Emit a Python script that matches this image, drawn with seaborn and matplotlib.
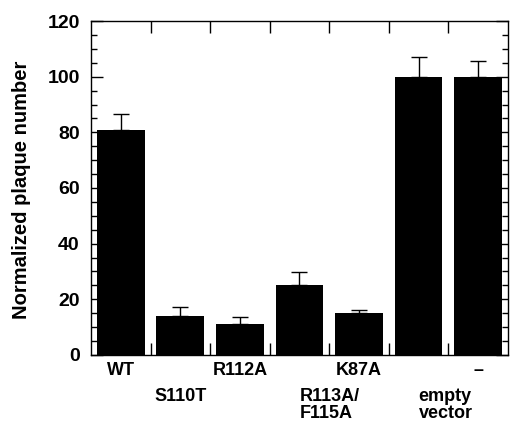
import matplotlib
matplotlib.use("Agg")
import matplotlib.pyplot as plt
import seaborn as sns
import numpy as np

# data
labels = ['WT', 'S110T', 'R112A', 'R113A/\nF115A', 'K87A', 'empty\nvector', '\u2013']
values = [80.8, 14.0, 11.0, 25.0, 14.9, 100.0, 100.0]
err_up = [5.8, 3.1, 2.8, 4.7, 1.2, 7.0, 5.5]

sns.set_style('ticks')
plt.rcParams['font.family'] = ['Liberation Sans', 'DejaVu Sans']
plt.rcParams['font.weight'] = 'bold'
# seaborn greys the text, the original is plain black
for k in ['text.color', 'axes.labelcolor', 'xtick.color', 'ytick.color']:
    plt.rcParams[k] = 'black'

fig = plt.figure(figsize=(5.14, 4.21), dpi=100)
ax = fig.add_axes([0.177, 0.157, 0.811, 0.793])

x = np.arange(len(labels))
sns.barplot(x=x, y=values, color='black', width=0.8, errorbar=None,
            saturation=1, linewidth=0, ax=ax, native_scale=True)
ax.errorbar(x, values, yerr=[np.zeros(len(x)), err_up], fmt='none',
            ecolor='black', elinewidth=1, capsize=6, capthick=1)

ax.set_xlim(-0.5, 6.5)
ax.set_ylim(0, 120)

# box all round
for s in ax.spines.values():
    s.set_visible(True)
    s.set_linewidth(1)
    s.set_color('black')

# x: labels under bars (staggered), ticks in the gaps
ax.set_xticks(x)
ax.set_xticklabels(labels, fontsize=13, fontweight='bold', linespacing=0.95)
ax.set_xticks(np.arange(0.5, 6.5, 1), minor=True)
ax.tick_params(axis='x', which='major', length=0)
ax.tick_params(axis='x', which='minor', direction='in', length=8.5,
               width=1, top=True, bottom=True)
for i, t in enumerate(ax.xaxis.get_major_ticks()):
    t.set_pad(5 if i % 2 == 0 else 24)
for i, lab in enumerate(ax.get_xticklabels()):
    lab.set_verticalalignment('top')
    lab.set_multialignment('left')
    if i in (3, 5):
        lab.set_horizontalalignment('left')
        lab.set_x(x[i] - 0.27)

# y ticks inside on both sides
ax.set_yticks(np.arange(0, 121, 20))
ax.set_yticks(np.arange(0, 121, 5), minor=True)
ax.tick_params(axis='y', which='major', direction='in', length=8.5, width=1,
               left=True, right=True, labelsize=14, pad=8)
ax.tick_params(axis='y', which='minor', direction='in', length=4, width=1,
               left=True, right=True)
for lab in ax.get_yticklabels():
    lab.set_fontweight('bold')

ax.set_ylabel('Normalized plaque number', fontsize=14.5, fontweight='bold')
ax.yaxis.set_label_coords(-0.145, 0.494)

fig.savefig('out.png', dpi=100)
